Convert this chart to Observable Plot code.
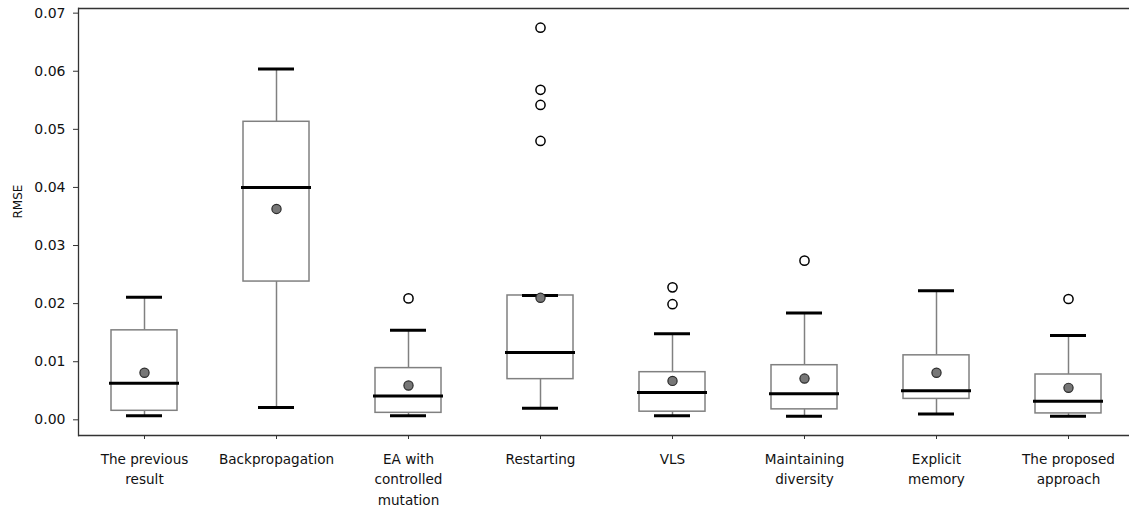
<!DOCTYPE html>
<html>
<head>
<meta charset="utf-8">
<script src="https://cdn.jsdelivr.net/npm/d3@7"></script>
<script src="https://cdn.jsdelivr.net/npm/@observablehq/plot@0.6"></script>
<style>
  html, body { margin: 0; padding: 0; background: white; overflow: hidden; }
  #chart svg { display: block; }
</style>
</head>
<body>
<div id="chart"></div>
<script>
const categories = ["The previous result", "Backpropagation", "EA with controlled mutation", "Restarting", "VLS", "Maintaining diversity", "Explicit memory", "The proposed approach"];
const tickLabels = ["The previous\nresult", "Backpropagation", "EA with\ncontrolled\nmutation", "Restarting", "VLS", "Maintaining\ndiversity", "Explicit\nmemory", "The proposed\napproach"];
const whiskerLow  = [0.0007, 0.0021, 0.0007, 0.0020, 0.0007, 0.0006, 0.0010, 0.0006];
const q1          = [0.00155, 0.0238, 0.0012, 0.0070, 0.0014, 0.0018, 0.0036, 0.0011];
const median      = [0.0063, 0.0400, 0.0041, 0.0116, 0.0047, 0.0045, 0.0050, 0.0032];
const q3          = [0.0154, 0.0513, 0.0089, 0.0214, 0.0082, 0.0094, 0.0111, 0.0078];
const whiskerHigh = [0.0211, 0.0604, 0.0154, 0.0214, 0.0148, 0.0184, 0.0222, 0.0145];
const mean        = [0.0081, 0.0363, 0.0059, 0.0210, 0.0067, 0.0071, 0.0081, 0.0055];
const outlierCategory = ["EA with controlled mutation", "Restarting", "Restarting", "Restarting", "Restarting", "VLS", "VLS", "Maintaining diversity", "The proposed approach"];
const outlierValue    = [0.0209, 0.0675, 0.0568, 0.0542, 0.0480, 0.0228, 0.0199, 0.0274, 0.0208];
const yTicks = [0, 0.01, 0.02, 0.03, 0.04, 0.05, 0.06, 0.07];

const boxes = categories.map((c, i) => ({cat: c, lo: whiskerLow[i], q1: q1[i], med: median[i], q3: q3[i], hi: whiskerHigh[i], mean: mean[i]}));
const outliers = outlierCategory.map((c, i) => ({cat: c, value: outlierValue[i]}));
const yDomain = [-0.0027, 0.0708];

const chart = Plot.plot({
  width: 1129,
  height: 513,
  marginLeft: 78,
  marginRight: 0,
  marginTop: 8,
  marginBottom: 78,
  style: {fontFamily: "DejaVu Sans", fontSize: "14px", color: "#111", background: "white"},
  x: {type: "band", domain: categories, range: [78.3, 1134.3], padding: 0},
  y: {domain: yDomain, range: [435, 8]},
  marks: [
    Plot.ruleX(boxes, {x: "cat", y1: "lo", y2: "q1", stroke: "#808080", strokeWidth: 1.5}),
    Plot.ruleX(boxes, {x: "cat", y1: "q3", y2: "hi", stroke: "#808080", strokeWidth: 1.5}),
    Plot.barY(boxes, {x: "cat", y1: "q1", y2: "q3", fill: "white", stroke: "#808080", strokeWidth: 1.5, insetLeft: 33, insetRight: 33}),
    Plot.tickY(boxes, {x: "cat", y: "lo", stroke: "#000", strokeWidth: 3, insetLeft: 48, insetRight: 48}),
    Plot.tickY(boxes, {x: "cat", y: "hi", stroke: "#000", strokeWidth: 3, insetLeft: 48, insetRight: 48}),
    Plot.tickY(boxes, {x: "cat", y: "med", stroke: "#000", strokeWidth: 3, insetLeft: 31, insetRight: 31}),
    Plot.dot(outliers, {x: "cat", y: "value", r: 4.6, fill: "white", stroke: "#000", strokeWidth: 1.5}),
    Plot.dot(boxes, {x: "cat", y: "mean", r: 4.6, fill: "#777777", stroke: "#2a2a2a", strokeWidth: 1.2}),
    Plot.ruleY(yDomain, {stroke: "#333", strokeWidth: 1.3}),
    Plot.frame({anchor: "left", stroke: "#333", strokeWidth: 1.3}),
    Plot.axisY({ticks: yTicks, tickFormat: d3.format(".2f"), tickSize: 5, tickPadding: 8, fontSize: 14, stroke: "#333", label: null}),
    Plot.axisX({tickSize: 4, tickPadding: 9.5, fontSize: 13.6, lineHeight: 1.52, stroke: "#333", label: null,
      tickFormat: d => tickLabels[categories.indexOf(d)]}),
    Plot.text(["RMSE"], {frameAnchor: "left", rotate: -90, dx: -60, dy: -3.5, fontSize: 12, fill: "#111"})
  ]
});
document.getElementById("chart").appendChild(chart);
</script>
</body>
</html>
